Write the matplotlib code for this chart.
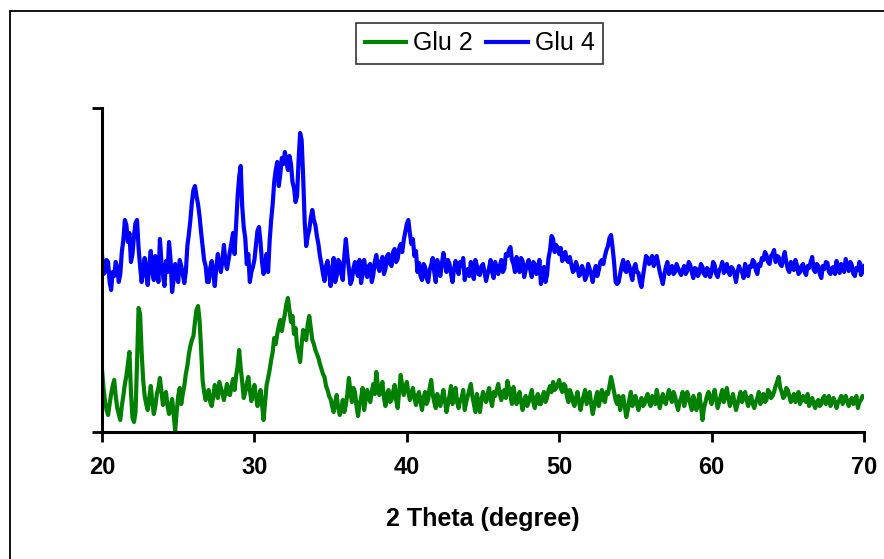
import numpy as np
import matplotlib
matplotlib.use('Agg')
import matplotlib.pyplot as plt
from matplotlib.patches import Rectangle

plt.rcParams['font.family'] = ['Liberation Sans', 'DejaVu Sans']

# 2 theta grid (degree), step 0.1
two_theta = np.round(np.arange(20.0, 70.0001, 0.1), 1)

# intensities (arbitrary units), 20 points per 2 degrees
glu4 = [
    177, 158, 160, 172, 170, 150, 142, 160, 156, 170, 164, 150, 158, 180, 192, 212, 207, 190, 199, 170,
    178, 196, 209, 212, 184, 166, 150, 162, 174, 158, 147, 168, 181, 160, 152, 176, 168, 150, 193, 170,
    157, 146, 171, 160, 190, 172, 140, 152, 168, 158, 150, 172, 166, 158, 149, 160, 186, 198, 212, 230,
    242, 246, 236, 228, 216, 200, 186, 172, 166, 150, 150, 164, 171, 158, 146, 165, 178, 168, 160, 172,
    187, 170, 163, 172, 181, 190, 199, 178, 208, 236, 255, 266, 226, 205, 194, 168, 178, 150, 160, 165,
    172, 186, 201, 205, 190, 170, 158, 166, 178, 160, 191, 212, 228, 250, 262, 270, 246, 258, 274, 268,
    280, 270, 262, 276, 268, 250, 244, 230, 236, 272, 299, 292, 255, 210, 186, 196, 202, 214, 222, 212,
    207, 196, 188, 176, 168, 158, 151, 166, 171, 160, 146, 162, 174, 150, 156, 172, 170, 158, 152, 176,
    193, 176, 163, 148, 152, 164, 170, 160, 156, 172, 149, 158, 172, 162, 155, 166, 168, 150, 157, 170,
    177, 166, 161, 170, 175, 158, 163, 176, 178, 168, 166, 180, 183, 170, 173, 184, 188, 180, 192, 200,
    208, 212, 199, 188, 193, 176, 181, 160, 169, 156, 152, 168, 165, 154, 150, 162, 167, 174, 160, 150,
    172, 162, 156, 168, 179, 170, 160, 172, 168, 158, 150, 163, 171, 164, 158, 170, 166, 174, 152, 160,
    163, 156, 170, 160, 153, 172, 166, 158, 157, 166, 168, 160, 151, 158, 164, 172, 160, 154, 170, 164,
    158, 166, 172, 160, 163, 178, 176, 182, 185, 172, 168, 160, 175, 166, 160, 174, 171, 155, 162, 168,
    172, 162, 155, 170, 168, 158, 160, 172, 148, 160, 165, 150, 157, 174, 182, 196, 193, 180, 187, 184,
    178, 184, 171, 176, 180, 172, 170, 175, 167, 160, 162, 170, 165, 156, 158, 166, 161, 152, 156, 168,
    163, 158, 150, 160, 166, 156, 162, 170, 172, 168, 176, 182, 186, 194, 197, 185, 170, 150, 148, 150,
    158, 166, 172, 162, 160, 170, 166, 158, 152, 164, 168, 160, 159, 150, 145, 156, 166, 176, 174, 168,
    172, 176, 166, 170, 176, 168, 160, 154, 148, 158, 165, 170, 158, 162, 166, 158, 160, 168, 164, 160,
    157, 162, 166, 158, 161, 170, 167, 160, 154, 164, 163, 156, 159, 168, 165, 158, 156, 164, 162, 155,
    160, 170, 167, 158, 155, 162, 164, 170, 159, 162, 168, 160, 157, 165, 163, 158, 150, 160, 166, 162,
    160, 154, 168, 162, 156, 166, 165, 172, 170, 162, 158, 168, 166, 174, 172, 180, 177, 170, 168, 176,
    178, 182, 170, 176, 175, 168, 166, 174, 180, 170, 163, 160, 170, 164, 162, 172, 167, 158, 160, 166,
    168, 160, 157, 166, 164, 170, 175, 162, 160, 168, 166, 158, 154, 166, 163, 170, 169, 160, 158, 164,
    165, 158, 171, 162, 159, 168, 166, 160, 173, 166, 161, 170, 167, 158, 156, 164, 162, 170, 157, 160,
    166,
]

glu2 = [
    62, 44, 30, 22, 17, 28, 38, 46, 52, 36, 24, 18, 12, 26, 36, 48, 56, 68, 80, 40,
    14, 10, 20, 70, 124, 118, 80, 52, 36, 28, 22, 34, 46, 30, 18, 26, 38, 44, 54, 40,
    27, 36, 40, 26, 18, 24, 33, 18, 1, 20, 36, 44, 28, 38, 46, 58, 66, 78, 86, 92,
    96, 110, 122, 126, 112, 84, 52, 40, 32, 38, 42, 30, 26, 36, 47, 40, 34, 50, 44, 38,
    32, 40, 48, 38, 37, 46, 53, 42, 56, 66, 82, 64, 50, 34, 40, 48, 55, 42, 31, 38,
    47, 36, 26, 34, 42, 28, 12, 30, 47, 54, 62, 72, 80, 94, 88, 98, 106, 112, 101, 110,
    118, 128, 134, 122, 110, 116, 98, 104, 86, 78, 70, 88, 102, 96, 92, 108, 116, 104, 92, 88,
    82, 78, 74, 68, 63, 58, 55, 46, 42, 36, 33, 26, 20, 30, 37, 24, 17, 22, 32, 20,
    27, 38, 54, 40, 30, 44, 40, 26, 16, 28, 34, 44, 22, 32, 42, 36, 30, 40, 48, 38,
    60, 46, 37, 44, 50, 34, 26, 38, 42, 30, 32, 40, 47, 32, 24, 40, 57, 46, 37, 44,
    50, 40, 32, 38, 44, 34, 27, 36, 40, 30, 22, 34, 40, 28, 32, 44, 52, 38, 30, 24,
    38, 30, 26, 34, 42, 32, 20, 28, 36, 46, 28, 38, 44, 30, 24, 32, 34, 42, 22, 30,
    36, 42, 48, 36, 28, 20, 38, 30, 20, 32, 40, 34, 30, 38, 44, 32, 26, 40, 36, 42,
    48, 38, 32, 40, 42, 34, 51, 44, 36, 28, 45, 36, 28, 34, 40, 30, 22, 30, 36, 26,
    30, 36, 42, 30, 24, 34, 38, 28, 28, 36, 40, 30, 34, 42, 46, 40, 50, 42, 44, 48,
    52, 44, 40, 48, 46, 36, 30, 42, 38, 30, 26, 34, 40, 30, 22, 30, 36, 42, 28, 34,
    40, 28, 18, 26, 34, 40, 26, 34, 42, 32, 30, 40, 38, 46, 55, 48, 40, 32, 28, 36,
    22, 30, 36, 26, 15, 22, 32, 40, 26, 30, 36, 28, 22, 30, 34, 26, 28, 34, 38, 30,
    26, 36, 34, 28, 42, 34, 24, 32, 38, 30, 28, 36, 42, 34, 30, 40, 36, 28, 22, 30,
    34, 40, 26, 32, 40, 34, 28, 22, 36, 30, 22, 30, 38, 26, 12, 24, 30, 36, 40, 34,
    28, 36, 42, 32, 24, 30, 36, 42, 30, 36, 44, 34, 26, 32, 38, 30, 22, 28, 34, 40,
    30, 36, 40, 32, 26, 34, 36, 28, 24, 30, 34, 40, 28, 34, 38, 30, 32, 42, 40, 34,
    36, 40, 46, 50, 55, 44, 40, 34, 36, 44, 42, 36, 30, 34, 38, 30, 34, 40, 28, 32,
    36, 32, 30, 38, 26, 32, 34, 28, 24, 30, 32, 26, 28, 34, 36, 28, 30, 36, 26, 30,
    34, 30, 24, 30, 32, 36, 28, 34, 36, 30, 26, 32, 34, 28, 30, 36, 24, 30, 32, 36,
    35,
]

x_ticks = [20, 30, 40, 50, 60, 70]

fig = plt.figure(figsize=(8.84, 5.59), dpi=100)
ax = fig.add_axes([102 / 884, 1 - 432 / 559, 762 / 884, 324 / 559])

ax.plot(two_theta, glu2, color='#008000', lw=3.0, label='Glu 2')
ax.plot(two_theta, glu4, color='#0000FF', lw=3.0, label='Glu 4')

ax.set_xlim(20, 70)
ax.set_ylim(0, 324)
ax.set_xticks(x_ticks)
ax.set_yticks([0, 324])
ax.set_yticklabels([])
for s in ['top', 'right']:
    ax.spines[s].set_visible(False)
for s in ['left', 'bottom']:
    ax.spines[s].set_linewidth(2.2)
ax.tick_params(axis='both', direction='out', length=7.5, width=2.0)
ax.tick_params(axis='x', labelsize=17, pad=10)
for lab in ax.get_xticklabels():
    lab.set_fontweight('bold')

xl = ax.set_xlabel('2 Theta (degree)', fontsize=18, fontweight='bold')
xl.set_va('center')
ax.xaxis.set_label_coords(0.5, -(519 - 432) / 324)

leg = fig.legend(loc='center', bbox_to_anchor=(479.5 / 884, 1 - 43.5 / 559), ncol=2,
                 fontsize=18, frameon=True, fancybox=False, handlelength=1.65,
                 handletextpad=0.28, columnspacing=0.55, borderpad=0.35,
                 borderaxespad=0)
leg.get_frame().set_edgecolor('black')
leg.get_frame().set_linewidth(1.2)
for h in leg.get_lines():
    h.set_linewidth(3)

# outer frame of the chart area
fig.add_artist(Rectangle((9.5 / 884, -0.1), 2, 1.1 - 11 / 559, transform=fig.transFigure,
                         fill=False, lw=1.3, edgecolor='black'))

fig.savefig('out.png', dpi=100)
